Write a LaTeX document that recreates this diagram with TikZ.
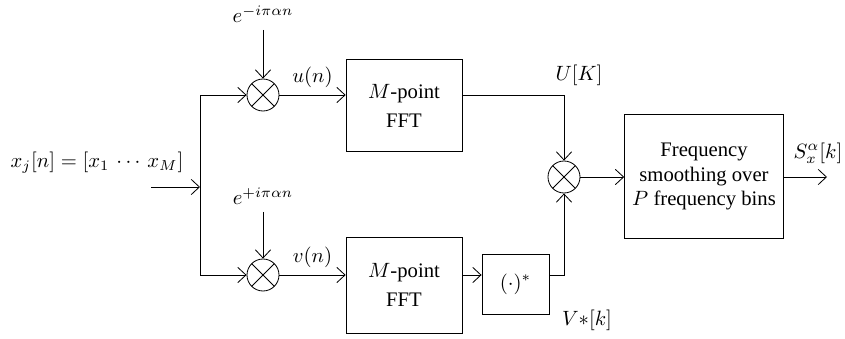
\documentclass[tikz,border=0pt]{standalone}
\usepackage{amsmath}
\usepackage{fontspec}
\setmainfont{Liberation Serif}
\usetikzlibrary{arrows.meta}

\begin{document}
\begin{tikzpicture}[x=0.017cm,y=-0.017cm,
	>={Straight Barb[length=1.4mm,width=2.6mm]},
	mult/.style={draw,circle,minimum size=0.544cm,inner sep=0pt,
		path picture={\draw (path picture bounding box.north west)--(path picture bounding box.south east);
			\draw (path picture bounding box.north east)--(path picture bounding box.south west);}},
	blk/.style={draw,align=center,inner sep=2pt}]
	\useasboundingbox (0,0) rectangle (845,339);

	\node[mult] (mulu) at (263,95){};
	\node[mult] (mulv) at (263,275){};
	\node[mult] (mulsum) at (564,177){};
	\node (expu) at (263,14){$e^{-i\pi\alpha n}$};
	\node (expv) at (263,196){$e^{+i\pi\alpha n}$};

	\node[blk,minimum width=1.97cm,minimum height=1.55cm] (fftu) at (404,105.5){$M$-point\\[2pt]FFT};
	\node[blk,minimum width=1.97cm,minimum height=1.63cm] (fftv) at (404,285){$M$-point\\[2pt]FFT};
	\node[blk,minimum width=1.14cm,minimum height=1.02cm] (conj) at (515.5,284){$(\cdot)^{*}$};
	\node[blk,minimum width=2.70cm,minimum height=2.12cm] (smooth) at (704,176.5){Frequency\\smoothing over\\$P$ frequency bins};

	\node (xin) at (97,163){$x_j[n]=[x_1\,\cdots\,x_M]$};
	\node (lbu) at (579,75){$U[K]$};
	\node (lbv) at (587,320){$V{\ast}[k]$};
	\node[inner sep=1pt] (lbs) at (818,153){$S_x^{\alpha}[k]$};

	\coordinate (in) at (151,187);
	\coordinate (split) at (200,187);
	\coordinate (out) at (827,177);

	% input branch
	\draw[->] (in) -- (split);
	\draw[->] (split) |- (mulu.west);
	\draw[->] (split) |- (mulv.west);
	\draw[->] (expu) -- (mulu.north);
	\draw[->] (expv) -- (mulv.north);

	% upper path
	\draw[->] (mulu.east) -- node[above]{$u(n)$} (mulu -| fftu.west);
	\draw[->] (mulu -| fftu.east) -| (mulsum.north);

	% lower path
	\draw[->] (mulv.east) -- node[above]{$v(n)$} (mulv -| fftv.west);
	\draw[->] (mulv -| fftv.east) -- (mulv -| conj.west);
	\draw[->] (mulv -| conj.east) -| (mulsum.south);

	% output
	\draw[->] (mulsum.east) -- (mulsum -| smooth.west);
	\draw[->] (mulsum -| smooth.east) -- (out);
\end{tikzpicture}
\end{document}
